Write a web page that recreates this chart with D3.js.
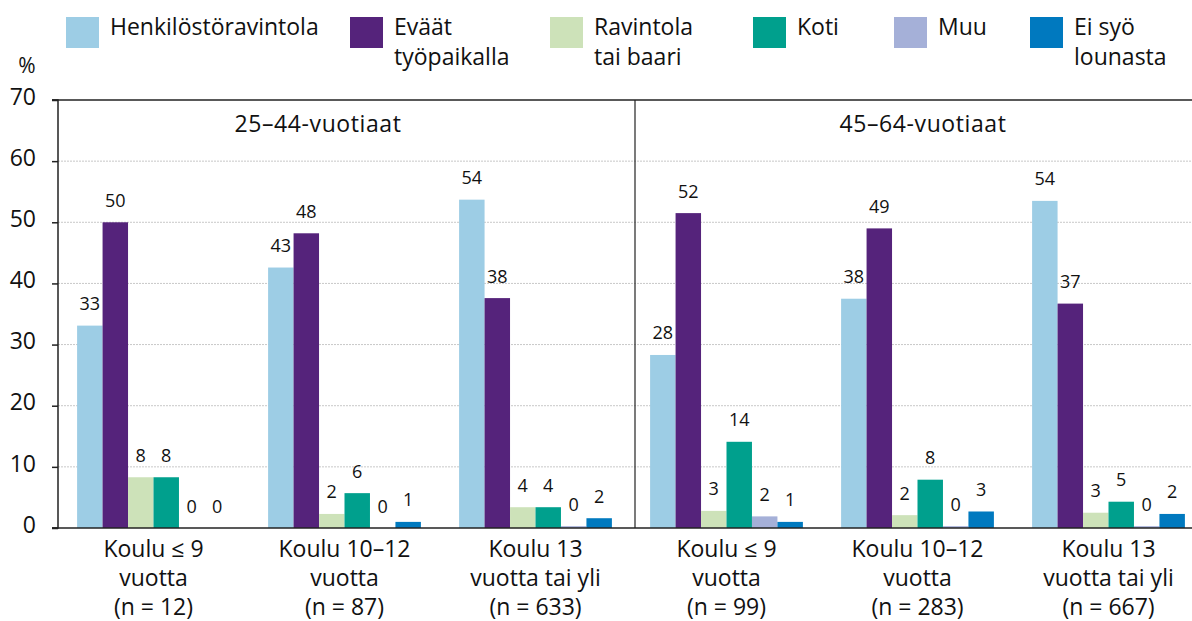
<!DOCTYPE html>
<html><head><meta charset="utf-8">
<script src="https://cdn.jsdelivr.net/npm/d3@7"></script>
<style>body{margin:0;background:#fff}svg{display:block}text{font-family:"Open Sans",sans-serif;fill:#111}</style>
</head><body><svg id="c" width="1192" height="621"></svg>
<script>
const series = ["Henkilöstöravintola","Eväät työpaikalla","Ravintola tai baari","Koti","Muu","Ei syö lounasta"];
const seriesLines = [["Henkilöstöravintola"],["Eväät","työpaikalla"],["Ravintola","tai baari"],["Koti"],["Muu"],["Ei syö","lounasta"]];
const colors = ["#9dcde5","#55237b","#cde2b9","#00a08d","#a5b0d8","#0079bf"];
const panels = ["25–44-vuotiaat","45–64-vuotiaat"];
const categories = ["a1","a2","a3","b1","b2","b3"];
const categoryLines = [
  ["Koulu ≤ 9","vuotta","(n = 12)"],
  ["Koulu 10–12","vuotta","(n = 87)"],
  ["Koulu 13","vuotta tai yli","(n = 633)"],
  ["Koulu ≤ 9","vuotta","(n = 99)"],
  ["Koulu 10–12","vuotta","(n = 283)"],
  ["Koulu 13","vuotta tai yli","(n = 667)"]
];
// bar heights and printed labels
const values = [
  [33.1, 50.0, 8.3, 8.3, 0, 0],
  [42.6, 48.2, 2.3, 5.7, 0, 1.0],
  [53.7, 37.6, 3.4, 3.4, 0.3, 1.6],
  [28.3, 51.5, 2.8, 14.1, 1.9, 1.0],
  [37.5, 49.0, 2.1, 7.9, 0.3, 2.7],
  [53.5, 36.7, 2.5, 4.3, 0.3, 2.3]
];
const labels = [
  [33,50,8,8,0,0],
  [43,48,2,6,0,1],
  [54,38,4,4,0,2],
  [28,52,3,14,2,1],
  [38,49,2,8,0,3],
  [54,37,3,5,0,2]
];
const yTicks = [0,10,20,30,40,50,60,70];

const svg = d3.select("#c");
const x0 = 58, x1 = 1192, yTop = 100, yBot = 528, divX = 635;
const y = d3.scaleLinear().domain([0,70]).range([yBot,yTop]);
const xb = d3.scaleBand().domain(categories).range([x0, 1204]).paddingInner(0.2).paddingOuter(0.1);
const xs = d3.scaleBand().domain(d3.range(6)).range([0, xb.bandwidth()]);

// gridlines
svg.append("g").selectAll("line").data(yTicks.filter(t=>t>0&&t<70)).join("line")
  .attr("x1",x0).attr("x2",x1).attr("y1",d=>y(d)).attr("y2",d=>y(d))
  .attr("stroke","#c8c8c8").attr("stroke-width",1).attr("stroke-dasharray","2,1");

// bars
const g = svg.append("g").selectAll("g").data(categories).join("g")
  .attr("transform",(d)=>`translate(${xb(d)},0)`);
g.selectAll("rect").data((d,i)=>values[i].map((v,j)=>({v,j}))).join("rect")
  .attr("x",d=>xs(d.j)).attr("width",xs.bandwidth())
  .attr("y",d=>y(d.v)).attr("height",d=>yBot-y(d.v))
  .attr("fill",d=>colors[d.j]);
g.selectAll("text.v").data((d,i)=>labels[i].map((l,j)=>({l,j,v:values[i][j]}))).join("text")
  .attr("class","v").attr("x",d=>xs(d.j)+xs.bandwidth()/2).attr("y",d=>y(d.v)-15.5)
  .attr("text-anchor","middle").style("font-size","18px").text(d=>d.l);

// axes frame
svg.append("line").attr("x1",52).attr("x2",x1).attr("y1",yTop).attr("y2",yTop).attr("stroke","#222").attr("stroke-width",1.5);
svg.append("line").attr("x1",divX).attr("x2",divX).attr("y1",yTop).attr("y2",yBot).attr("stroke","#222").attr("stroke-width",1.2);
const ya = d3.axisLeft(y).tickValues(yTicks).tickSize(6).tickPadding(16);
const yg = svg.append("g").attr("transform",`translate(${x0},0)`).call(ya);
yg.select(".domain").attr("stroke","#222").attr("stroke-width",1.5).attr("d",`M-6,${yBot}H0V${yTop}H-6`);
yg.selectAll(".tick line").attr("stroke","#222").attr("stroke-width",1.5);
yg.selectAll(".tick text").style("font-size","23px").style("font-family","'Open Sans',sans-serif").attr("fill","#111").attr("y",-4).attr("dy","0.36em");
svg.append("line").attr("x1",52).attr("x2",x1).attr("y1",yBot).attr("y2",yBot).attr("stroke","#222").attr("stroke-width",1.5);
svg.append("text").attr("x",27).attr("y",73).attr("text-anchor","middle").style("font-size","21px").text("%");

// panel titles
const titleX = [318, 923];
svg.selectAll("text.pt").data(panels).join("text").attr("class","pt")
  .attr("x",(d,i)=>titleX[i]).attr("y",132).attr("text-anchor","middle").style("font-size","23px").style("letter-spacing","0.6px").text(d=>d);

// category labels
const cl = svg.append("g").selectAll("text").data(categories).join("text")
  .attr("text-anchor","middle").style("font-size","23px")
  .attr("transform",d=>`translate(${xb(d)+xb.bandwidth()/2},0)`);
cl.selectAll("tspan").data((d,i)=>categoryLines[i]).join("tspan")
  .attr("x",0).attr("y",(d,k)=>557+k*29).text(d=>d);

// legend
const legX = [66,350,550,753,894,1030];
const lg = svg.append("g").selectAll("g").data(series).join("g")
  .attr("transform",(d,i)=>`translate(${legX[i]},17)`);
lg.append("rect").attr("width",33).attr("height",31).attr("fill",(d,i)=>colors[i]);
lg.append("text").style("font-size","23px").selectAll("tspan").data((d,i)=>seriesLines[i]).join("tspan")
  .attr("x",44).attr("y",(d,k)=>18+k*30).text(d=>d);
</script></body></html>
